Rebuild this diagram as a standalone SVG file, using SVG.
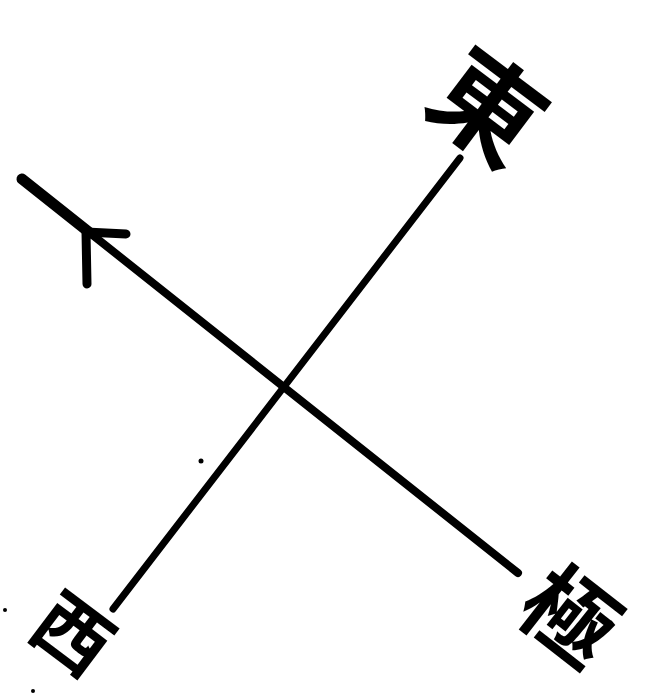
<svg xmlns="http://www.w3.org/2000/svg" width="654" height="697" viewBox="0 0 654 697">
<style>
.ln{stroke:#000;stroke-linecap:round;fill:none}
.lb{font-family:"Noto Sans CJK JP","Noto Sans CJK SC",sans-serif;font-weight:700;fill:#000;text-anchor:middle;dominant-baseline:central}
</style>
<rect width="654" height="697" fill="#fff"/>
<g id="connectors">
<line class="ln" x1="22" y1="179" x2="518" y2="573" stroke-width="8"/>
<line class="ln" x1="22" y1="179" x2="90" y2="233" stroke-width="11"/>
<line class="ln" x1="113" y1="609" x2="460" y2="158" stroke-width="7"/>
<path class="ln" d="M87,284 L86,232 L126,234" stroke-width="9" stroke-linejoin="round"/>
</g>
<g id="east"><text class="lb" font-size="108" transform="translate(492,102) rotate(37)">東</text></g>
<g id="west"><text class="lb" font-size="76" transform="translate(76,630) rotate(37)">西</text></g>
<g id="pole"><text class="lb" font-size="92" transform="translate(574,611) rotate(38)">極</text></g>
<g id="dots">
<circle cx="201" cy="461" r="2.5"/>
<circle cx="5" cy="610" r="2"/>
<circle cx="33" cy="691" r="2"/>
</g>
</svg>
